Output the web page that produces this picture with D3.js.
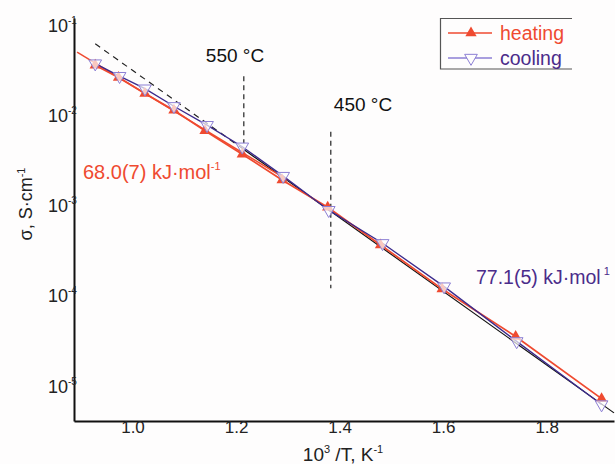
<!DOCTYPE html>
<html>
<head>
<meta charset="utf-8">
<script src="https://cdn.jsdelivr.net/npm/d3@7"></script>
<style>
  body { margin: 0; background: #fefdfd; }
  svg { display: block; font-family: "Liberation Sans", Arial, sans-serif; }
</style>
</head>
<body>
<svg id="chart" width="615" height="464"></svg>
<script>
// heating run (filled triangles)
const heatInvT = [0.928, 0.973, 1.024, 1.080, 1.140, 1.212, 1.289, 1.377, 1.479, 1.598, 1.740, 1.906];
const heatSigma = [3.77e-2, 2.75e-2, 1.83e-2, 1.19e-2, 7.06e-3, 3.89e-3, 2.01e-3, 1.00e-3, 3.83e-4, 1.24e-4, 3.70e-5, 7.55e-6];

// cooling run (open inverted triangles)
const coolInvT = [0.928, 0.975, 1.024, 1.080, 1.144, 1.212, 1.291, 1.379, 1.483, 1.602, 1.742, 1.906];
const coolSigma = [3.93e-2, 2.85e-2, 2.07e-2, 1.32e-2, 8.15e-3, 4.70e-3, 2.22e-3, 9.3e-4, 3.99e-4, 1.32e-4, 3.26e-5, 6.5e-6];

// Arrhenius fits
const fitLowInvT = [0.928, 1.215, 1.930];        // 77.1 kJ/mol line (dashed part, then solid)
const fitLowSigma = [6.52e-2, 4.38e-3, 5.25e-6];
const fitHighInvT = [0.893, 1.300];               // 68.0 kJ/mol line
const fitHighSigma = [5.28e-2, 2.0e-3];

// temperature markers
const markers = [
    { label: "550 °C", invT: 1.215, from: 2.84e-2, to: 5.13e-3 },
    { label: "450 °C", invT: 1.383, from: 6.87e-3, to: 1.27e-4 }
];

const xTicks = [1.0, 1.2, 1.4, 1.6, 1.8];
const yTicks = [1e-1, 1e-2, 1e-3, 1e-4, 1e-5];

const red = "#ef4a30";
const indigo = "#3b2a8c";
const lilac = "#8c7fd4";

const svg = d3.select("#chart");

const x = d3.scaleLinear().domain([0.887, 1.93]).range([74, 614]);
const y = d3.scaleLog().domain([Math.pow(10, -5.37), Math.pow(10, -0.9)]).range([421, 18]);

const heat = heatInvT.map((t, i) => ({ t: t, s: heatSigma[i] }));
const cool = coolInvT.map((t, i) => ({ t: t, s: coolSigma[i] }));
const line = d3.line().x(d => x(d.t)).y(d => y(d.s));

// axes
const xAxis = svg.append("g")
    .attr("transform", `translate(0,421)`)
    .call(d3.axisBottom(x).tickValues(xTicks).tickSize(0).tickFormat(d3.format(".1f")));
xAxis.select(".domain").attr("stroke", "#111").attr("stroke-width", 2);
xAxis.selectAll("text").attr("font-size", 17).attr("fill", "#222").attr("dy", 0).attr("y", 12);

const yAxis = svg.append("g")
    .attr("transform", `translate(74,0)`)
    .call(d3.axisLeft(y).tickValues(yTicks).tickSize(0).tickFormat(""));
yAxis.select(".domain").attr("stroke", "#111").attr("stroke-width", 2);

yTicks.forEach(v => {
    svg.append("text")
        .attr("x", 68).attr("y", y(v) + 5)
        .attr("text-anchor", "end")
        .attr("font-size", 18).attr("fill", "#222")
        .text("10");
    svg.append("text")
        .attr("x", 68).attr("y", y(v) - 3)
        .attr("font-size", 10).attr("fill", "#222")
        .text(Math.round(Math.log10(v)));
});

// axis titles
const yt = svg.append("text")
    .attr("transform", "translate(32,204) rotate(-90)")
    .attr("text-anchor", "middle")
    .attr("font-size", 18).attr("fill", "#222");
yt.append("tspan").text("σ, S·cm");
yt.append("tspan").attr("font-size", 11).attr("dy", -7).text("-1");

const xt = svg.append("text")
    .attr("x", 343).attr("y", 461)
    .attr("text-anchor", "middle")
    .attr("font-size", 19).attr("fill", "#222");
xt.append("tspan").text("10");
xt.append("tspan").attr("font-size", 11).attr("dy", -8).text("3");
xt.append("tspan").attr("dy", 8).text(" /T, K");
xt.append("tspan").attr("font-size", 11).attr("dy", -8).text("-1");

// vertical temperature markers
markers.forEach(m => {
    svg.append("line")
        .attr("x1", x(m.invT)).attr("x2", x(m.invT))
        .attr("y1", y(m.from)).attr("y2", y(m.to))
        .attr("stroke", "#222").attr("stroke-width", 1.2)
        .attr("stroke-dasharray", "5,4");
});
svg.append("text").attr("x", 235).attr("y", 62).attr("text-anchor", "middle")
    .attr("font-size", 19).attr("fill", "#111").text(markers[0].label);
svg.append("text").attr("x", 363).attr("y", 111).attr("text-anchor", "middle")
    .attr("font-size", 19).attr("fill", "#111").text(markers[1].label);

// fits
const fitLow = fitLowInvT.map((t, i) => ({ t: t, s: fitLowSigma[i] }));
svg.append("path").datum(fitLow.slice(0, 2))
    .attr("d", line).attr("fill", "none")
    .attr("stroke", "#222").attr("stroke-width", 1.2).attr("stroke-dasharray", "6,5");
svg.append("path").datum(fitLow.slice(1))
    .attr("d", line).attr("fill", "none")
    .attr("stroke", "#111").attr("stroke-width", 1.2);

const fitHigh = fitHighInvT.map((t, i) => ({ t: t, s: fitHighSigma[i] }));
svg.append("path").datum(fitHigh)
    .attr("d", line).attr("fill", "none")
    .attr("stroke", red).attr("stroke-width", 1.5);

// data lines
svg.append("path").datum(heat)
    .attr("d", line).attr("fill", "none")
    .attr("stroke", red).attr("stroke-width", 1.8);
svg.append("path").datum(cool)
    .attr("d", line).attr("fill", "none")
    .attr("stroke", indigo).attr("stroke-width", 1.3);

// markers
const triUp = d3.symbol().type(d3.symbolTriangle).size(55);
const triDown = d3.symbol().type(d3.symbolTriangle).size(70);

svg.selectAll(".heat").data(heat).enter().append("path")
    .attr("class", "heat")
    .attr("d", triUp)
    .attr("transform", d => `translate(${x(d.t)},${y(d.s)})`)
    .attr("fill", red);

svg.selectAll(".cool").data(cool).enter().append("path")
    .attr("class", "cool")
    .attr("d", triDown)
    .attr("transform", d => `translate(${x(d.t)},${y(d.s)}) rotate(180)`)
    .attr("fill", "#fefdfd").attr("fill-opacity", 0.7)
    .attr("stroke", lilac).attr("stroke-width", 1);

// activation energy labels
const ea1 = svg.append("text").attr("x", 83).attr("y", 179)
    .attr("font-size", 20).attr("fill", red);
ea1.append("tspan").text("68.0(7) kJ·mol");
ea1.append("tspan").attr("font-size", 11).attr("dy", -9).text("-1");

const ea2 = svg.append("text").attr("x", 476).attr("y", 284)
    .attr("font-size", 19.5).attr("fill", "#4b2c8a");
ea2.append("tspan").text("77.1(5) kJ·mol");
ea2.append("tspan").attr("font-size", 11).attr("dy", -9).text(" 1");

// legend
const lg = svg.append("g");
lg.append("path")
    .attr("d", "M572,18.5 H440.5 V69 H572")
    .attr("fill", "none").attr("stroke", "#555").attr("stroke-width", 1.2);
const legendItems = [
    { name: "heating", color: red, text: red, sym: triUp, rot: 0, fill: red, stroke: "none", yy: 33 },
    { name: "cooling", color: lilac, text: "#4b2c8a", sym: triDown, rot: 180, fill: "#fefdfd", stroke: lilac, yy: 58 }
];
legendItems.forEach(d => {
    lg.append("line").attr("x1", 448).attr("x2", 492).attr("y1", d.yy).attr("y2", d.yy)
        .attr("stroke", d.color).attr("stroke-width", 1.3);
    lg.append("path").attr("d", d.sym)
        .attr("transform", `translate(471,${d.yy}) rotate(${d.rot})`)
        .attr("fill", d.fill).attr("stroke", d.stroke).attr("stroke-width", 1);
    lg.append("text").attr("x", 500).attr("y", d.yy + 7)
        .attr("font-size", 19.5).attr("fill", d.text).text(d.name);
});
</script>
</body>
</html>
